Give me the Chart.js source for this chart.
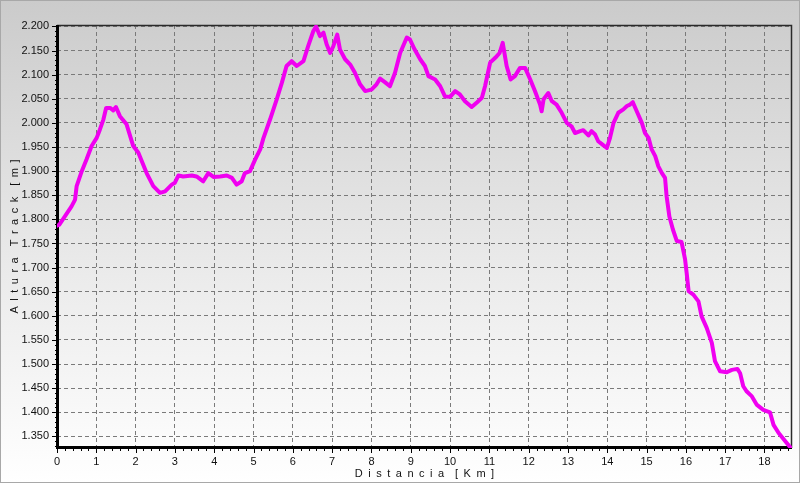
<!DOCTYPE html>
<html>
<head>
<meta charset="utf-8">
<script src="https://cdn.jsdelivr.net/npm/chart.js@4/dist/chart.umd.min.js"></script>
<style>
  html, body { margin: 0; padding: 0; background: #fff; }
  #wrap { width: 800px; height: 483px; position: relative; }
</style>
</head>
<body>
<div id="wrap"><canvas id="c" width="800" height="483"></canvas></div>
<script>
const distanceKm = [
  0.00, 0.06, 0.20, 0.37, 0.46, 0.50, 0.63, 0.75, 0.88, 1.01, 1.09, 1.18, 1.25, 1.35, 1.43, 1.50,
  1.60, 1.77, 1.94, 2.07, 2.28, 2.45, 2.62, 2.75, 2.92, 3.00, 3.09, 3.21, 3.43, 3.55, 3.72, 3.85,
  3.98, 4.15, 4.32, 4.45, 4.57, 4.70, 4.78, 4.91, 5.04, 5.17, 5.25, 5.42, 5.59, 5.72, 5.84, 5.97,
  6.10, 6.27, 6.39, 6.52, 6.59, 6.69, 6.78, 6.86, 6.95, 7.03, 7.13, 7.20, 7.33, 7.46, 7.58, 7.71,
  7.84, 8.00, 8.13, 8.22, 8.35, 8.47, 8.60, 8.73, 8.90, 8.98, 9.10, 9.24, 9.36, 9.45, 9.62, 9.75,
  9.87, 10.00, 10.13, 10.25, 10.38, 10.55, 10.69, 10.81, 10.89, 11.02, 11.15, 11.26, 11.34, 11.44,
  11.54, 11.65, 11.78, 11.91, 12.04, 12.16, 12.29, 12.33, 12.38, 12.50, 12.59, 12.71, 12.84, 12.97,
  13.09, 13.18, 13.31, 13.39, 13.52, 13.60, 13.69, 13.77, 13.88, 13.99, 14.07, 14.16, 14.28, 14.41,
  14.50, 14.58, 14.65, 14.75, 14.88, 14.96, 15.05, 15.13, 15.22, 15.30, 15.39, 15.47, 15.51, 15.58,
  15.67, 15.77, 15.89, 15.98, 16.02, 16.07, 16.19, 16.32, 16.40, 16.53, 16.66, 16.74, 16.87, 17.04,
  17.17, 17.31, 17.38, 17.46, 17.55, 17.68, 17.80, 17.97, 18.14, 18.23, 18.36, 18.53, 18.66
];
const elevationM = [
  1787, 1789, 1806, 1827, 1841, 1869, 1900, 1924, 1952, 1969, 1986, 2007, 2031, 2031, 2026, 2033,
  2014, 1997, 1952, 1938, 1896, 1869, 1855, 1858, 1872, 1876, 1891, 1889, 1891, 1889, 1879, 1896,
  1888, 1889, 1891, 1886, 1872, 1879, 1896, 1900, 1924, 1945, 1968, 2007, 2049, 2083, 2118, 2128,
  2118, 2128, 2159, 2190, 2200, 2180, 2187, 2163, 2145, 2159, 2183, 2152, 2132, 2121, 2104, 2080,
  2066, 2069, 2080, 2092, 2084, 2076, 2104, 2145, 2177, 2173, 2152, 2132, 2118, 2097, 2090, 2076,
  2055, 2054, 2066, 2059, 2045, 2033, 2043, 2052, 2076, 2125, 2135, 2145, 2166, 2118,
  2090, 2097, 2114, 2114, 2090, 2066, 2038, 2024, 2049, 2062, 2045, 2038, 2021, 2000,
  1993, 1979, 1983, 1985, 1974, 1983, 1976, 1962, 1955, 1948, 1969, 2000, 2021, 2028,
  2035, 2038, 2043, 2024, 2000, 1979, 1969, 1945, 1931, 1910, 1896, 1886, 1848, 1806,
  1779, 1755, 1753, 1717, 1689, 1651, 1644, 1630, 1599, 1575, 1544, 1506, 1485, 1483,
  1488, 1490, 1481, 1454, 1443, 1433, 1416, 1405, 1400, 1374, 1357, 1340, 1327
];
const xTickValues = [0,1,2,3,4,5,6,7,8,9,10,11,12,13,14,15,16,17,18];
const yTickValues = [1350,1400,1450,1500,1550,1600,1650,1700,1750,1800,1850,1900,1950,2000,2050,2100,2150,2200];
const xRange = [0, 18.7];
const yRange = [1326, 2203];
const xTitleWords = ['Distancia', '[Km]'];
const yTitleWords = ['Altura', 'Track', '[m]'];

// letter-spaced titles (en spaces between letters, double between words)
function spaced(words) {
  return words.map(w => w.split('').join('\u2002')).join('\u2002\u2002');
}

const points = distanceKm.map((d, i) => ({ x: d, y: elevationM[i] }));

function fmtThousands(v) {
  return Math.round(v).toString().replace(/\B(?=(\d{3})+(?!\d))/g, '.');
}

const bgPlugin = {
  id: 'bg',
  beforeDraw(chart) {
    const ctx = chart.ctx;
    const g = ctx.createLinearGradient(0, 0, 0, chart.height);
    g.addColorStop(0, '#cbcbcb');
    g.addColorStop(0.55, '#eaeaea');
    g.addColorStop(1, '#ffffff');
    ctx.save();
    ctx.fillStyle = g;
    ctx.fillRect(0, 0, chart.width, chart.height);
    ctx.strokeStyle = '#a8a8a8';
    ctx.lineWidth = 1;
    ctx.strokeRect(0.5, 0.5, chart.width - 1, chart.height - 1);
    ctx.restore();
  }
};

const framePlugin = {
  id: 'frame',
  beforeDatasetsDraw(chart) {
    const { ctx, chartArea: a, scales } = chart;
    const xs = scales.x, ys = scales.y;
    ctx.save();
    ctx.strokeStyle = '#2a2a2a';
    ctx.lineWidth = 1.5;
    ctx.beginPath();
    ctx.moveTo(a.left, a.top + 0.5);
    ctx.lineTo(a.right - 0.5, a.top + 0.5);
    ctx.lineTo(a.right - 0.5, a.bottom);
    ctx.stroke();
    ctx.strokeStyle = '#000';
    ctx.lineWidth = 1;
    ctx.beginPath();
    for (let k = 0; k * 0.2 <= xRange[1] + 1e-9; k++) {
      const v = k * 0.2;
      const px = Math.round(xs.getPixelForValue(v)) + 0.5;
      const len = (k % 5 === 0) ? 5 : 3;
      ctx.moveTo(px, a.bottom);
      ctx.lineTo(px, a.bottom + len);
    }
    for (let v = Math.ceil(yRange[0] / 10) * 10; v <= yRange[1]; v += 10) {
      const py = Math.round(ys.getPixelForValue(v)) + 0.5;
      const len = (v % 50 === 0) ? 5 : 2;
      ctx.moveTo(a.left, py);
      ctx.lineTo(a.left - len, py);
    }
    ctx.stroke();
    ctx.strokeStyle = '#000';
    ctx.lineWidth = 3;
    ctx.beginPath();
    ctx.moveTo(a.left + 0.5, a.top);
    ctx.lineTo(a.left + 0.5, a.bottom - 0.5);
    ctx.lineTo(a.right, a.bottom - 0.5);
    ctx.stroke();
    ctx.restore();
  }
};

Chart.defaults.font.family = '"Liberation Sans", Arial, sans-serif';
Chart.defaults.font.size = 11;
Chart.defaults.color = '#111';

new Chart(document.getElementById('c'), {
  type: 'line',
  data: {
    datasets: [{
      data: points,
      borderColor: '#f000f0',
      borderWidth: 4,
      pointRadius: 0,
      tension: 0,
      fill: false,
      borderJoinStyle: 'round',
      borderCapStyle: 'round'
    }]
  },
  options: {
    responsive: false,
    animation: false,
    events: [],
    layout: { padding: { left: 8, right: 8, top: 25, bottom: 2 } },
    plugins: { legend: { display: false }, tooltip: { enabled: false } },
    scales: {
      x: {
        type: 'linear',
        min: xRange[0],
        max: xRange[1],
        afterBuildTicks(s) { s.ticks = xTickValues.map(v => ({ value: v })); },
        afterFit(s) { s.height = 33; },
        ticks: { autoSkip: false, maxRotation: 0, padding: 7, color: '#111',
          callback: v => String(v) },
        grid: { color: '#7a7a7a', lineWidth: 1, drawTicks: false },
        border: { display: false, dash: [4, 3] },
        title: { display: true, text: spaced(xTitleWords), color: '#111', font: { size: 11 }, padding: 0 }
      },
      y: {
        type: 'linear',
        min: yRange[0],
        max: yRange[1],
        afterBuildTicks(s) { s.ticks = yTickValues.map(v => ({ value: v })); },
        afterFit(s) { s.width = 49; },
        ticks: { padding: 8, color: '#111', callback: v => fmtThousands(v) },
        grid: { color: '#7a7a7a', lineWidth: 1, drawTicks: false },
        border: { display: false, dash: [4, 3] },
        title: { display: true, text: spaced(yTitleWords), color: '#111', font: { size: 11 }, padding: 0 }
      }
    }
  },
  plugins: [bgPlugin, framePlugin]
});
</script>
</body>
</html>
